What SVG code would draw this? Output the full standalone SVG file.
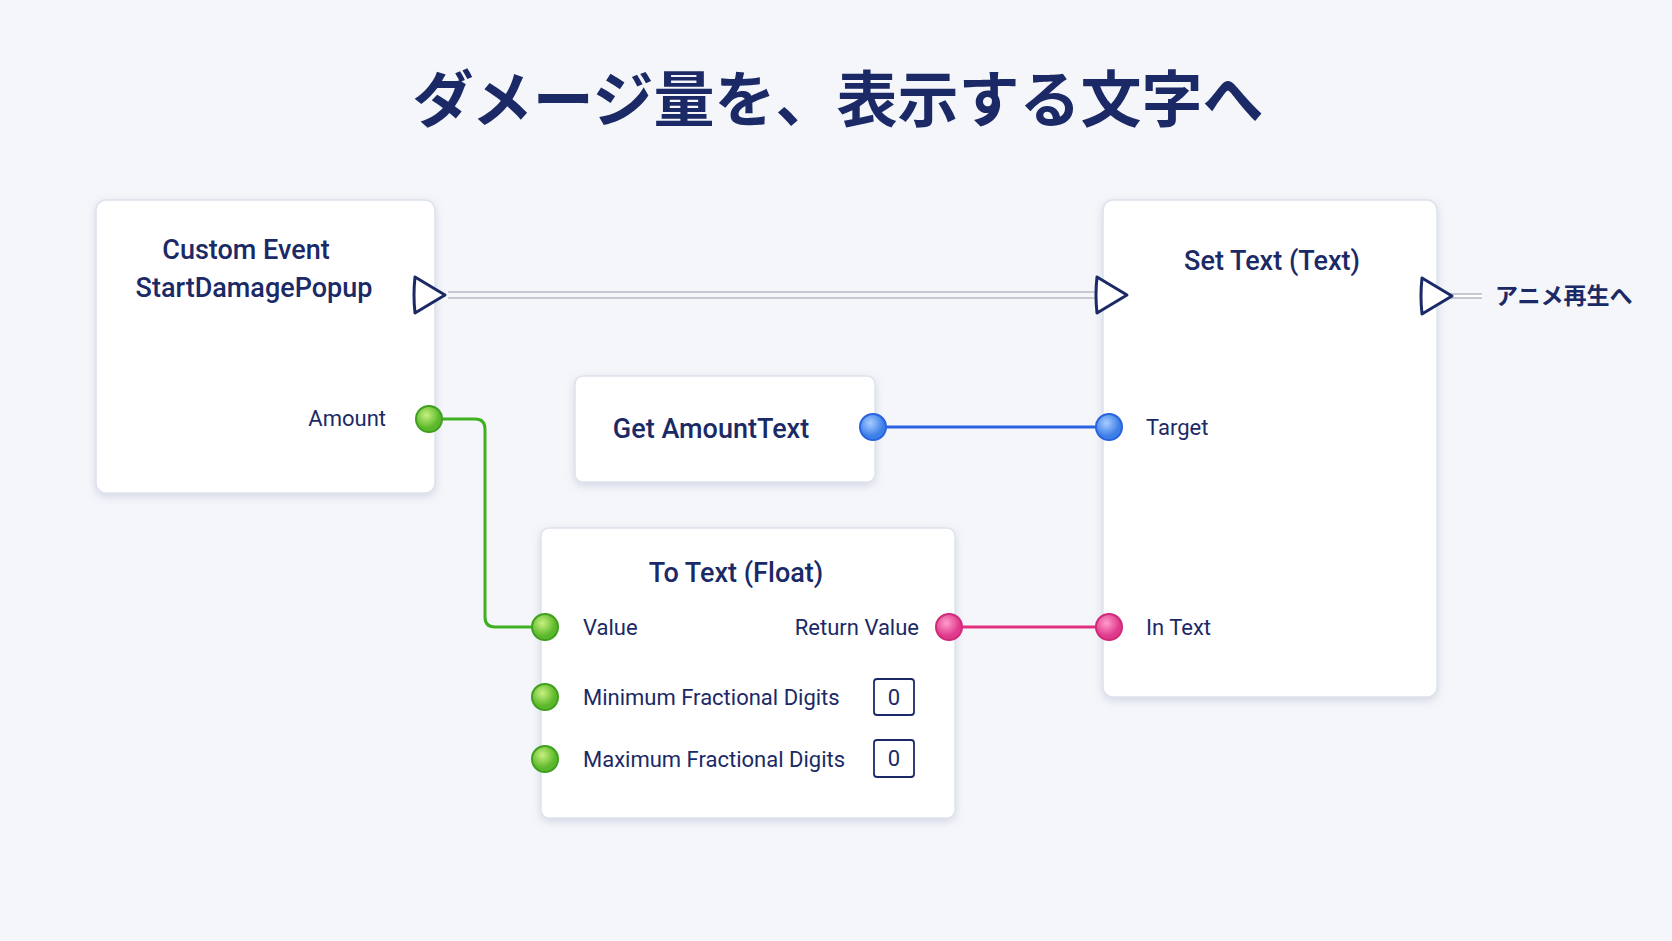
<svg xmlns="http://www.w3.org/2000/svg" width="1672" height="941" viewBox="0 0 1672 941">
<defs>
<filter id="sh" x="-10%" y="-10%" width="120%" height="125%"><feDropShadow dx="0" dy="3" stdDeviation="4" flood-color="#8090b0" flood-opacity="0.3"/></filter>
<radialGradient id="gG" cx="40%" cy="35%"><stop offset="0" stop-color="#c8f080"/><stop offset="1" stop-color="#5cb82a"/></radialGradient>
<radialGradient id="gB" cx="40%" cy="35%"><stop offset="0" stop-color="#a8ccff"/><stop offset="1" stop-color="#3d7fe8"/></radialGradient>
<radialGradient id="gP" cx="40%" cy="35%"><stop offset="0" stop-color="#ff9ccc"/><stop offset="1" stop-color="#e03a8c"/></radialGradient>
</defs>
<style>
.card{fill:#fff;stroke:#dde2ec;stroke-width:1.5;filter:url(#sh)}
.t{font-family:Roboto,"Noto Sans CJK JP",sans-serif;fill:#1b2a66}
.h{font-size:27px;font-weight:500}
.l{font-size:22px}
.exec{fill:#fff;stroke:#1b2a66;stroke-width:3;stroke-linejoin:round}
.pin{stroke-width:2}
.box{fill:#fff;stroke:#1b2a66;stroke-width:1.8}
</style>
<rect width="1672" height="941" fill="#f5f6fa"/>
<text class="t" x="838" y="122" text-anchor="middle" font-size="61" font-weight="700" font-family="'Noto Sans CJK JP',sans-serif">ダメージ量を、表示する文字へ</text>
<g id="connectors" fill="none">
<path d="M448 292H1098M448 298H1098" stroke="#c5c9d2" stroke-width="2"/>
<path d="M1450 296H1482" stroke="#c5c9d2" stroke-width="6"/>
<path d="M1450 296H1482" stroke="#fff" stroke-width="2"/>
<path d="M429 419H475Q485 419 485 429V617Q485 627 495 627H545" stroke="#3fb020" stroke-width="3"/>
<path d="M873 427H1109" stroke="#2a62e0" stroke-width="3"/>
<path d="M949 627H1109" stroke="#e0307f" stroke-width="3"/>
</g>
<g id="custom-event">
<rect class="card" x="96" y="200" width="339" height="293" rx="10"/>
<text class="t h" x="246" y="259" text-anchor="middle">Custom Event</text>
<text class="t h" x="254" y="297" text-anchor="middle">StartDamagePopup</text>
<path class="exec" d="M415 277L445 295L415 313Q413 295 415 277Z"/>
<text class="t l" x="386" y="426" text-anchor="end">Amount</text>
<circle class="pin" cx="429" cy="419" r="13" fill="url(#gG)" stroke="#3fa020"/>
</g>
<g id="get-amount">
<rect class="card" x="575" y="376" width="300" height="106" rx="8"/>
<text class="t h" x="711" y="438" text-anchor="middle">Get AmountText</text>
<circle class="pin" cx="873" cy="427" r="13" fill="url(#gB)" stroke="#2a62e0"/>
</g>
<g id="to-text">
<rect class="card" x="541" y="528" width="414" height="290" rx="8"/>
<text class="t h" x="736" y="582" text-anchor="middle">To Text (Float)</text>
<circle class="pin" cx="545" cy="627" r="13" fill="url(#gG)" stroke="#3fa020"/>
<text class="t l" x="583" y="635">Value</text>
<text class="t l" x="919" y="635" text-anchor="end">Return Value</text>
<circle class="pin" cx="949" cy="627" r="13" fill="url(#gP)" stroke="#d02a7a"/>
<circle class="pin" cx="545" cy="697" r="13" fill="url(#gG)" stroke="#3fa020"/>
<text class="t l" x="583" y="705">Minimum Fractional Digits</text>
<rect class="box" x="874" y="679" width="40" height="36" rx="3"/>
<text class="t l" x="894" y="705" text-anchor="middle">0</text>
<circle class="pin" cx="545" cy="759" r="13" fill="url(#gG)" stroke="#3fa020"/>
<text class="t l" x="583" y="767">Maximum Fractional Digits</text>
<rect class="box" x="874" y="740" width="40" height="37" rx="3"/>
<text class="t l" x="894" y="766" text-anchor="middle">0</text>
</g>
<g id="set-text">
<rect class="card" x="1103" y="200" width="334" height="497" rx="10"/>
<text class="t h" x="1272" y="270" text-anchor="middle">Set Text (Text)</text>
<path class="exec" d="M1097 277L1127 295L1097 313Q1095 295 1097 277Z"/>
<path class="exec" d="M1422 278L1452 296L1422 314Q1420 296 1422 278Z"/>
<circle class="pin" cx="1109" cy="427" r="13" fill="url(#gB)" stroke="#2a62e0"/>
<text class="t l" x="1146" y="435">Target</text>
<circle class="pin" cx="1109" cy="627" r="13" fill="url(#gP)" stroke="#d02a7a"/>
<text class="t l" x="1146" y="635">In Text</text>
</g>
<text class="t" x="1495" y="304" font-size="23" font-weight="700" font-family="'Noto Sans CJK JP',sans-serif">アニメ再生へ</text>
</svg>
